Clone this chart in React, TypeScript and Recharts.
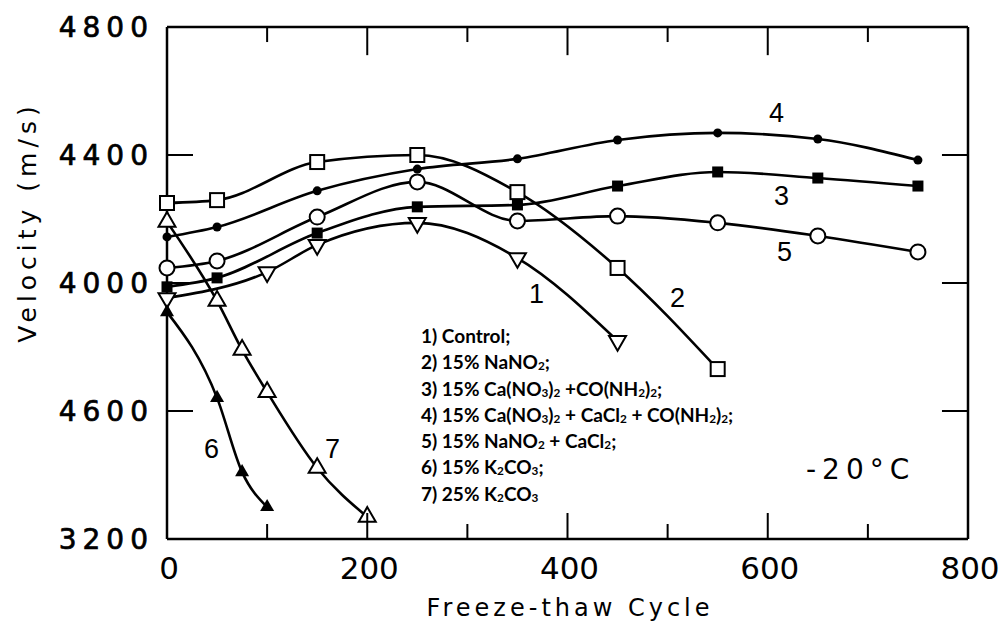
import { LineChart, Line, XAxis, YAxis, ReferenceLine } from "recharts"

// freeze-thaw cycles (x) and pulse velocity in m/s (y) for each mix
const xTicks = [0, 100, 200, 300, 400, 500, 600, 700, 800]
const yTicks = [3200, 3600, 4000, 4400, 4800]
const yTickLabels = ["3200", "4600", "4000", "4400", "4800"]

const controlCycles = [0, 100, 150, 250, 350, 450]
const controlVel = [3953, 4034, 4119, 4188, 4078, 3819]

const nitriteCycles = [0, 50, 150, 250, 350, 450, 550]
const nitriteVel = [4250, 4259, 4378, 4400, 4284, 4047, 3731]

const caNitUreaCycles = [0, 50, 150, 250, 350, 450, 550, 650, 750]
const caNitUreaVel = [3988, 4016, 4156, 4238, 4244, 4303, 4347, 4328, 4303]

const caNitChlUreaCycles = [0, 50, 150, 250, 350, 450, 550, 650, 750]
const caNitChlUreaVel = [4144, 4175, 4288, 4356, 4388, 4447, 4469, 4450, 4384]

const nitriteChlCycles = [0, 50, 150, 250, 350, 450, 550, 650, 750]
const nitriteChlVel = [4047, 4069, 4206, 4316, 4194, 4209, 4188, 4147, 4097]

const potash15Cycles = [0, 50, 75, 100]
const potash15Vel = [3909, 3641, 3409, 3300]

const potash25Cycles = [0, 50, 75, 100, 150, 200]
const potash25Vel = [4191, 3944, 3791, 3659, 3422, 3269]

// "_3" marks a subscript digit
const legendLines = [
  "1) Control;",
  "2) 15% NaNO_2;",
  "3) 15% Ca(NO_3)_2 +CO(NH_2)_2;",
  "4) 15% Ca(NO_3)_2 + CaCl_2 + CO(NH_2)_2;",
  "5) 15% NaNO_2 + CaCl_2;",
  "6) 15% K_2CO_3;",
  "7) 25% K_2CO_3",
]

const toPts = (xs: number[], ys: number[]) => xs.map((c, i) => ({ cycle: c, v: ys[i] }))

const ink = "#000"
const wide = "'DejaVu Sans', sans-serif"

// chart box
const W = 1008
const H = 632
const M = { top: 26, right: 39, bottom: 0, left: 0 }
const leftW = 167
const bottomH = 93

const OpenSquare = (p: any) => (
  <rect key={p.index} x={p.cx - 7} y={p.cy - 7} width={14} height={14} fill="#fff" stroke={ink} strokeWidth={2} />
)
const FilledSquare = (p: any) => (
  <rect key={p.index} x={p.cx - 5.5} y={p.cy - 5.5} width={11} height={11} fill={ink} />
)
const SmallDot = (p: any) => <circle key={p.index} cx={p.cx} cy={p.cy} r={4.5} fill={ink} />
const OpenCircle = (p: any) => (
  <circle key={p.index} cx={p.cx} cy={p.cy} r={7.5} fill="#fff" stroke={ink} strokeWidth={2} />
)
const tri = (cx: number, cy: number, s: number, down: boolean) => {
  const h = s * 0.866
  const d = down ? -1 : 1
  return `${cx},${cy - (d * 2 * h) / 3} ${cx - s / 2},${cy + (d * h) / 3} ${cx + s / 2},${cy + (d * h) / 3}`
}
const OpenTriUp = (p: any) => (
  <polygon key={p.index} points={tri(p.cx, p.cy, 17, false)} fill="#fff" stroke={ink} strokeWidth={2} />
)
const OpenTriDown = (p: any) => (
  <polygon key={p.index} points={tri(p.cx, p.cy, 17, true)} fill="#fff" stroke={ink} strokeWidth={2} />
)
const FilledTri = (p: any) => <polygon key={p.index} points={tri(p.cx, p.cy, 14, false)} fill={ink} />

const BottomTick = (p: any) => {
  const v = p.payload.value
  const major = v % 200 === 0
  const edge = v === 0 || v === 800
  return (
    <g>
      {!edge && <line x1={p.x} y1={p.y} x2={p.x} y2={p.y - (major ? 26 : 15)} stroke={ink} strokeWidth={2} />}
      {major && (
        <text x={p.x + 2} y={p.y + 40} textAnchor="middle" fontFamily={wide} fontSize={31} fill={ink}>
          {v}
        </text>
      )}
    </g>
  )
}
const LeftTick = (p: any) => {
  const v = p.payload.value
  const label = yTickLabels[yTicks.indexOf(v)]
  const edge = v === 3200 || v === 4800
  return (
    <g>
      {!edge && <line x1={p.x} y1={p.y} x2={p.x + 26} y2={p.y} stroke={ink} strokeWidth={2} />}
      <text
        x={p.x - 19 + 6}
        y={p.y}
        textAnchor="end"
        dominantBaseline="central"
        fontFamily={wide}
        fontSize={28}
        letterSpacing={6}
        fill={ink}
        stroke={ink}
        strokeWidth={0.7}
      >
        {label}
      </text>
    </g>
  )
}

const LegendLine = ({ text }: { text: string }) => {
  const parts = text.split(/(_\d)/)
  return (
    <div>
      {parts.map((s, i) =>
        s.startsWith("_") ? (
          <span key={i} style={{ fontSize: "0.62em", verticalAlign: "-0.12em", lineHeight: 0 }}>
            {s.slice(1)}
          </span>
        ) : (
          <span key={i}>{s}</span>
        )
      )}
    </div>
  )
}

const curveLabel = (t: string, x: number, y: number) => (
  <div
    key={t}
    style={{ position: "absolute", left: x, top: y, fontFamily: "'Liberation Sans', sans-serif", fontSize: 27, lineHeight: "27px" }}
  >
    {t}
  </div>
)

export default function App() {
  const series = [
    { name: "1", data: toPts(controlCycles, controlVel), dot: OpenTriDown },
    { name: "2", data: toPts(nitriteCycles, nitriteVel), dot: OpenSquare },
    { name: "3", data: toPts(caNitUreaCycles, caNitUreaVel), dot: FilledSquare },
    { name: "4", data: toPts(caNitChlUreaCycles, caNitChlUreaVel), dot: SmallDot },
    { name: "5", data: toPts(nitriteChlCycles, nitriteChlVel), dot: OpenCircle },
    { name: "6", data: toPts(potash15Cycles, potash15Vel), dot: FilledTri },
    { name: "7", data: toPts(potash25Cycles, potash25Vel), dot: OpenTriUp },
  ]

  return (
    <div style={{ position: "absolute", left: 0, top: 0, width: W, height: H, background: "#fff", color: ink }}>
      <LineChart width={W} height={H} margin={M}>
        <XAxis
          xAxisId="b"
          dataKey="cycle"
          type="number"
          domain={[0, 800]}
          ticks={xTicks}
          interval={0}
          height={bottomH}
          tickSize={0}
          tickMargin={0}
          tickLine={false}
          tick={BottomTick}
          axisLine={{ stroke: ink, strokeWidth: 2.5 }}
          allowDuplicatedCategory={false}
        />
        <XAxis
          xAxisId="t"
          dataKey="cycle"
          orientation="top"
          type="number"
          domain={[0, 800]}
          height={1}
          tick={false}
          tickLine={false}
          axisLine={{ stroke: ink, strokeWidth: 2.5 }}
          allowDuplicatedCategory={false}
        />
        <YAxis
          yAxisId="l"
          type="number"
          domain={[3200, 4800]}
          ticks={yTicks}
          interval={0}
          width={leftW}
          tickSize={0}
          tickMargin={0}
          tickLine={false}
          tick={LeftTick}
          axisLine={{ stroke: ink, strokeWidth: 2.5 }}
        />
        <YAxis
          yAxisId="r"
          orientation="right"
          type="number"
          domain={[3200, 4800]}
          width={1}
          tick={false}
          tickLine={false}
          axisLine={{ stroke: ink, strokeWidth: 2.5 }}
        />
        {/* control curve repeated without stroke so the top and right frame axes get a domain */}
        <Line
          xAxisId="t"
          yAxisId="r"
          data={series[0].data}
          dataKey="v"
          stroke="none"
          dot={false}
          activeDot={false}
          isAnimationActive={false}
        />
        {/* inward ticks on the top edge (every 100 cycles) and the right edge */}
        {xTicks.slice(1, -1).map((v) => (
          <ReferenceLine
            key={"top" + v}
            xAxisId="b"
            yAxisId="l"
            segment={[
              { x: v, y: 4800 },
              { x: v, y: v % 200 === 0 ? 4712 : 4753 },
            ]}
            stroke={ink}
            strokeWidth={2}
            ifOverflow="visible"
          />
        ))}
        {yTicks.slice(1, -1).map((v) => (
          <ReferenceLine
            key={"right" + v}
            xAxisId="b"
            yAxisId="l"
            segment={[
              { x: 800, y: v },
              { x: 774, y: v },
            ]}
            stroke={ink}
            strokeWidth={2}
            ifOverflow="visible"
          />
        ))}
        {series.map((s) => (
          <Line
            key={s.name}
            xAxisId="b"
            yAxisId="l"
            data={s.data}
            dataKey="v"
            type="monotone"
            stroke={ink}
            strokeWidth={2.6}
            dot={s.dot}
            activeDot={false}
            isAnimationActive={false}
          />
        ))}
      </LineChart>

      {curveLabel("4", 769, 100)}
      {curveLabel("3", 774, 183)}
      {curveLabel("5", 777, 239)}
      {curveLabel("1", 529, 281)}
      {curveLabel("2", 670, 285)}
      {curveLabel("6", 204, 436)}
      {curveLabel("7", 325, 436)}

      <div
        style={{
          position: "absolute",
          left: 806,
          top: 455,
          fontFamily: wide,
          fontSize: 28,
          lineHeight: "30px",
          letterSpacing: 6,
        }}
      >
        -20°C
      </div>

      <div
        style={{
          position: "absolute",
          left: 421,
          top: 323,
          fontFamily: "Lato, sans-serif",
          fontWeight: 700,
          fontSize: 19,
          lineHeight: "26.3px",
        }}
      >
        {legendLines.map((t) => (
          <LegendLine key={t} text={t} />
        ))}
      </div>

      <div
        style={{
          position: "absolute",
          left: 0,
          top: 592,
          width: 1140,
          textAlign: "center",
          fontFamily: wide,
          fontSize: 24,
          lineHeight: "32px",
          letterSpacing: 4,
        }}
      >
        Freeze-thaw Cycle
      </div>

      <div
        style={{
          position: "absolute",
          left: 28,
          top: 222,
          transform: "translate(-50%, -50%) rotate(-90deg)",
          whiteSpace: "nowrap",
          fontFamily: wide,
          fontSize: 25,
          lineHeight: "30px",
          letterSpacing: 5,
        }}
      >
        Velocity (m/s)
      </div>
    </div>
  )
}
